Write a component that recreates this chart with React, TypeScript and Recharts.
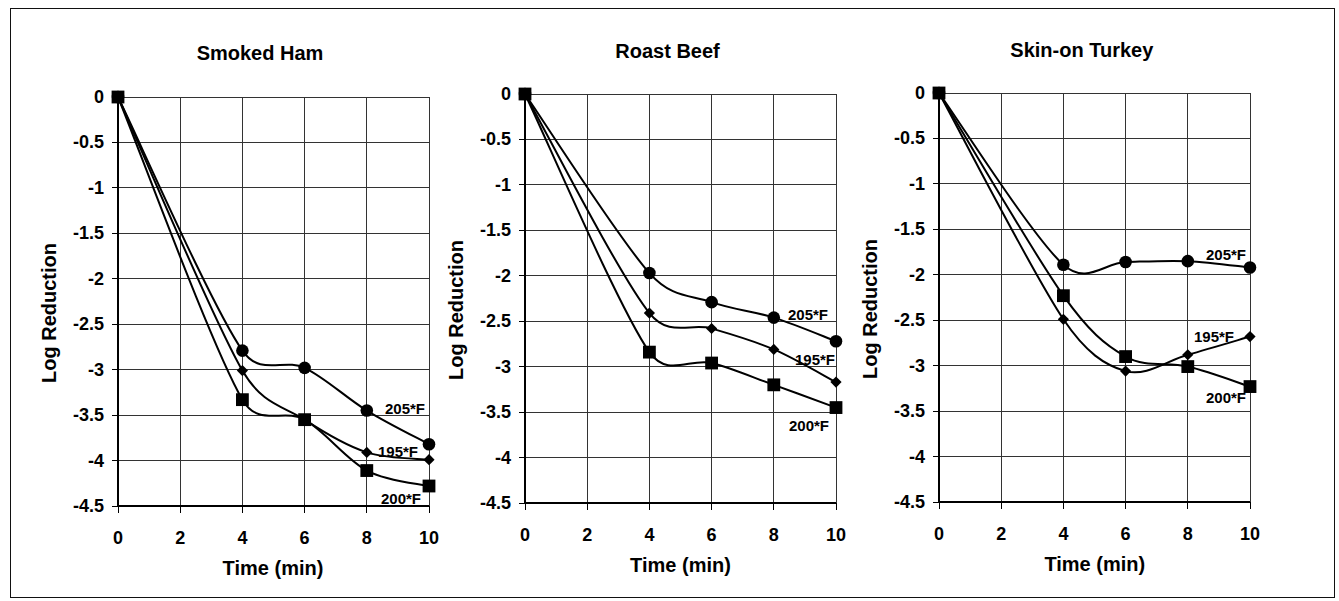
import React from "react";
import { CartesianGrid, Line, LineChart, XAxis, YAxis } from "recharts";

// sampling times (min) and axis ticks
const times = [0, 4, 6, 8, 10];
const xTicks = [0, 2, 4, 6, 8, 10];
const yTicks = [0, -0.5, -1, -1.5, -2, -2.5, -3, -3.5, -4, -4.5];
const yMinorTicks = [-0.25, -0.75, -1.25, -1.75, -2.25, -2.75, -3.25, -3.75, -4.25];

const titles = ["Smoked Ham", "Roast Beef", "Skin-on Turkey"];
const temps = ["205*F", "195*F", "200*F"];

// log reductions per product / temperature
const ham205 = [0, -2.79, -2.98, -3.45, -3.82];
const ham195 = [0, -3.01, -3.55, -3.91, -3.99];
const ham200 = [0, -3.33, -3.55, -4.11, -4.28];

const beef205 = [0, -1.97, -2.29, -2.46, -2.72];
const beef195 = [0, -2.41, -2.58, -2.81, -3.17];
const beef200 = [0, -2.84, -2.96, -3.2, -3.45];

const turkey205 = [0, -1.89, -1.86, -1.85, -1.92];
const turkey195 = [0, -2.49, -3.06, -2.88, -2.68];
const turkey200 = [0, -2.23, -2.9, -3.01, -3.23];

const seriesByPanel = [
  [ham205, ham195, ham200],
  [beef205, beef195, beef200],
  [turkey205, turkey195, turkey200],
];

const FONT = '"Liberation Sans", Arial, Helvetica, sans-serif';
const PLOT_W = 311;
const PLOT_H = 409;
const Y_AXIS_W = 60;
const X_AXIS_H = 50;
const M_TOP = 10;
const M_RIGHT = 10;

// plot-area origin of each panel, and where the temperature tags sit next to the last point
const layout = [
  { x: 117.5, y: 96.7, tags: [[-24, -36], [-31, -8], [-28, 12]] },
  { x: 525, y: 94, tags: [[-28, -27], [-21, -23], [-27, 18]] },
  { x: 939.3, y: 93.3, tags: [[-24, -13], [-36, 0], [-24, 11]] },
];

const shapes = ["circle", "diamond", "square"];

const css = `
.recharts-cartesian-grid line { shape-rendering: crispEdges; }
.recharts-cartesian-axis-line, .recharts-cartesian-axis-tick-line { shape-rendering: crispEdges; }
.recharts-cartesian-axis-tick text { font-family: ${FONT}; font-size: 18px; font-weight: 700; fill: #000; }
`;

// Excel-like "smoothed line": bezier with 1/6 tangents, arms capped at half the segment
function excelSmooth(context: any) {
  let pts: number[][] = [];
  const dist = (a: number[], b: number[]) => Math.hypot(b[0] - a[0], b[1] - a[1]);
  return {
    areaStart() {},
    areaEnd() {},
    lineStart() {
      pts = [];
    },
    point(x: number, y: number) {
      pts.push([+x, +y]);
    },
    lineEnd() {
      const n = pts.length;
      if (!n) return;
      context.moveTo(pts[0][0], pts[0][1]);
      for (let i = 0; i < n - 1; i++) {
        const p0 = pts[Math.max(i - 1, 0)];
        const p1 = pts[i];
        const p2 = pts[i + 1];
        const p3 = pts[Math.min(i + 2, n - 1)];
        const seg = dist(p1, p2);
        const d02 = dist(p0, p2) || 1;
        const d13 = dist(p1, p3) || 1;
        const f1 = Math.min(1 / 6, (0.5 * seg) / d02);
        const f2 = Math.min(1 / 6, (0.5 * seg) / d13);
        context.bezierCurveTo(
          p1[0] + (p2[0] - p0[0]) * f1,
          p1[1] + (p2[1] - p0[1]) * f1,
          p2[0] - (p3[0] - p1[0]) * f2,
          p2[1] - (p3[1] - p1[1]) * f2,
          p2[0],
          p2[1]
        );
      }
    },
  };
}

function makeDot(shape: string, tag: string, off: number[]) {
  return (p: any) => {
    const { cx, cy, index } = p;
    if (cx == null || cy == null) return <g key={`d${index}`} />;
    let mark;
    if (shape === "circle") mark = <circle cx={cx} cy={cy} r={6.3} fill="#000" />;
    else if (shape === "square") mark = <rect x={cx - 6.4} y={cy - 6.4} width={12.8} height={12.8} fill="#000" />;
    else mark = <path d={`M${cx},${cy - 5.6}L${cx + 5.6},${cy}L${cx},${cy + 5.6}L${cx - 5.6},${cy}Z`} fill="#000" />;
    return (
      <g key={`d${index}`}>
        {mark}
        {index === times.length - 1 && (
          <text
            x={cx + off[0]}
            y={cy + off[1]}
            textAnchor="middle"
            dominantBaseline="central"
            fontSize={15}
            fontWeight={700}
            fontFamily={FONT}
            fill="#000"
          >
            {tag}
          </text>
        )}
      </g>
    );
  };
}

const XTick = (p: any) => (
  <text x={p.x} y={p.y} dy="0.72em" textAnchor="middle" fontSize={18} fontWeight={700} fontFamily={FONT} fill="#000">
    {p.payload.value}
  </text>
);

const YTick = (p: any) => (
  <text x={p.x} y={p.y} textAnchor="end" dominantBaseline="central" fontSize={18} fontWeight={700} fontFamily={FONT} fill="#000">
    {p.payload.value}
  </text>
);

const NoLabel = () => <g />;

function Panel({ idx }: { idx: number }) {
  const pos = layout[idx];
  const series = seriesByPanel[idx];
  const rows = times.map((t, i) => ({ t, s0: series[0][i], s1: series[1][i], s2: series[2][i] }));
  const cx = pos.x + PLOT_W / 2;

  return (
    <>
      <div
        style={{
          position: "absolute",
          left: cx - 13,
          top: pos.y - 43.5,
          transform: "translate(-50%, -50%)",
          fontSize: 20,
          fontWeight: 700,
          lineHeight: 1,
          whiteSpace: "nowrap",
        }}
      >
        {titles[idx]}
      </div>
      <div style={{ position: "absolute", left: pos.x - Y_AXIS_W, top: pos.y - M_TOP }}>
        <LineChart
          width={Y_AXIS_W + PLOT_W + M_RIGHT}
          height={M_TOP + PLOT_H + X_AXIS_H}
          data={rows}
          margin={{ top: M_TOP, right: M_RIGHT, bottom: 0, left: 0 }}
        >
          <CartesianGrid stroke="#333" strokeWidth={1} />
          <XAxis
            dataKey="t"
            type="number"
            domain={[0, 10]}
            ticks={xTicks}
            interval={0}
            height={X_AXIS_H}
            tickSize={7}
            tickMargin={18}
            axisLine={{ stroke: "#000", strokeWidth: 1.5 }}
            tickLine={{ stroke: "#000" }}
            tick={<XTick />}
          />
          <YAxis
            type="number"
            domain={[-4.5, 0]}
            ticks={yTicks}
            interval={0}
            width={Y_AXIS_W}
            tickSize={6}
            tickMargin={8}
            axisLine={{ stroke: "#000", strokeWidth: 1.5 }}
            tickLine={{ stroke: "#000" }}
            tick={<YTick />}
          />
          <YAxis
            yAxisId="minor"
            mirror
            type="number"
            domain={[-4.5, 0]}
            ticks={yMinorTicks}
            interval={0}
            tickSize={5}
            axisLine={false}
            tickLine={{ stroke: "#000" }}
            tick={<NoLabel />}
          />
          {[0, 1, 2].map((k) => (
            <Line
              key={k}
              dataKey={`s${k}`}
              type={excelSmooth as any}
              stroke="#000"
              strokeWidth={2}
              dot={makeDot(shapes[k], temps[k], pos.tags[k])}
              activeDot={false}
              isAnimationActive={false}
            />
          ))}
        </LineChart>
      </div>
      <div
        style={{
          position: "absolute",
          left: pos.x - 69,
          top: pos.y + 216,
          transform: "translate(-50%, -50%) rotate(-90deg)",
          fontSize: 20,
          fontWeight: 700,
          lineHeight: 1,
          whiteSpace: "nowrap",
        }}
      >
        Log Reduction
      </div>
      <div
        style={{
          position: "absolute",
          left: cx,
          top: pos.y + PLOT_H + 62,
          transform: "translate(-50%, -50%)",
          fontSize: 20,
          fontWeight: 700,
          lineHeight: 1,
          whiteSpace: "nowrap",
        }}
      >
        Time (min)
      </div>
    </>
  );
}

export default function App() {
  return (
    <div
      style={{
        position: "absolute",
        left: 0,
        top: 0,
        width: 1339,
        height: 601,
        background: "#fff",
        fontFamily: FONT,
        color: "#000",
        overflow: "hidden",
      }}
    >
      <style>{css}</style>
      <div
        style={{
          position: "absolute",
          left: 10,
          top: 8,
          width: 1325,
          height: 590,
          border: "1.5px solid #111",
          boxSizing: "border-box",
        }}
      />
      {[0, 1, 2].map((i) => (
        <Panel key={i} idx={i} />
      ))}
    </div>
  );
}
